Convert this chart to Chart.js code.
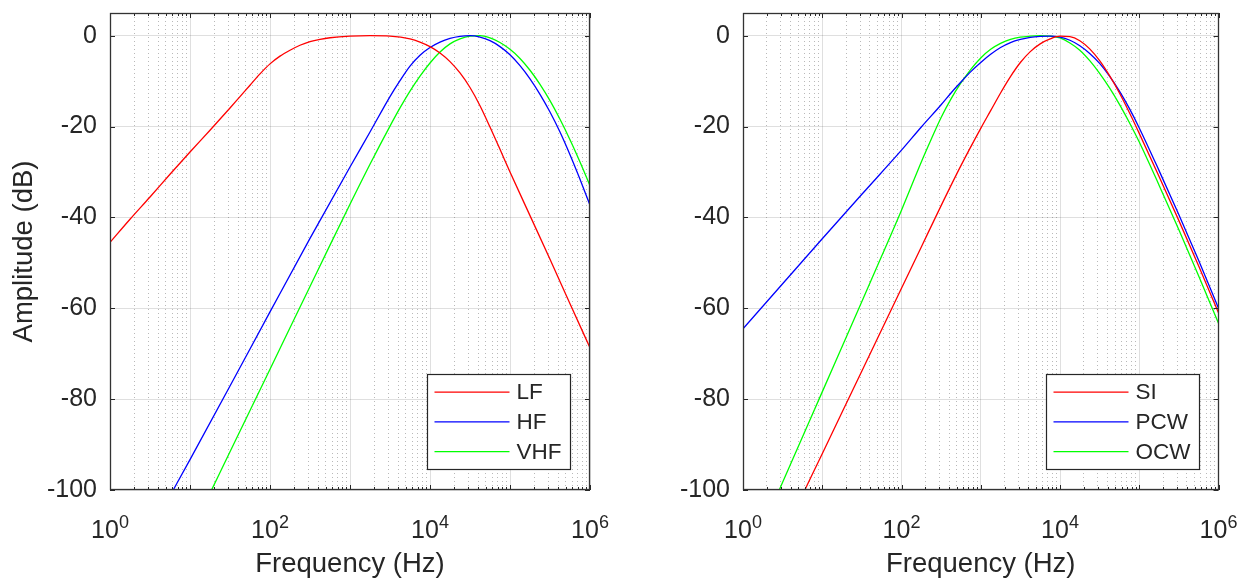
<!DOCTYPE html>
<html>
<head>
<meta charset="utf-8">
<script src="https://cdn.jsdelivr.net/npm/chart.js@4.4.1/dist/chart.umd.min.js"></script>
<style>
  html, body { margin: 0; padding: 0; background: #fff; }
  body { width: 1249px; height: 581px; position: relative; overflow: hidden; }
  canvas { position: absolute; top: 0; }
  #chart-left { left: 0; }
  #chart-right { left: 625px; }
</style>
</head>
<body>
<canvas id="chart-left" width="625" height="581"></canvas>
<canvas id="chart-right" width="624" height="581"></canvas>
<script>
const FONT = '"Liberation Sans", Arial, Helvetica, sans-serif';
const INK = '#262626';
const MAJOR_GRID = 'rgba(38,38,38,0.15)';
const MINOR_GRID = 'rgba(38,38,38,0.32)';

// axis ticks
const yTicks = [-100, -80, -60, -40, -20, 0];
const xDecades = [1, 10, 100, 1e3, 1e4, 1e5, 1e6];
const minorSteps = [2, 3, 4, 5, 6, 7, 8, 9];
const xLabelExps = [0, 2, 4, 6];

// left panel: log10(f) positions and amplitude in dB
const lfLogHz = [0, 0.25, 0.5, 0.75, 1, 1.25, 1.5, 1.625, 1.75, 1.875, 2, 2.125, 2.25, 2.375, 2.5, 2.625, 2.75, 3, 3.25, 3.5, 3.75, 3.875, 4, 4.125, 4.25, 4.375, 4.5, 4.625, 4.75, 4.875, 5, 5.25, 5.5, 5.75, 6];
const lfDb = [-45.5, -40.4, -35.5, -30.5, -25.6, -20.8, -15.9, -13.4, -10.9, -8.4, -6.2, -4.5, -3.2, -2.1, -1.3, -0.8, -0.45, -0.1, 0, -0.1, -0.7, -1.4, -2.4, -3.8, -5.7, -8.2, -11.4, -15.4, -20.1, -25.0, -30.0, -39.6, -49.2, -59.0, -68.7];
const hfLogHz = [0.75, 1, 1.5, 2, 2.5, 3, 3.25, 3.5, 3.625, 3.75, 3.875, 4, 4.125, 4.25, 4.375, 4.5, 4.625, 4.75, 4.875, 5, 5.125, 5.25, 5.375, 5.5, 5.625, 5.75, 5.875, 6];
const hfDb = [-101.3, -93.3, -77.1, -60.8, -44.6, -28.9, -21.2, -13.4, -9.9, -6.7, -4.3, -2.6, -1.4, -0.6, -0.15, 0, -0.3, -1.1, -2.4, -4.2, -6.6, -9.5, -12.9, -16.8, -21.2, -26.2, -31.6, -37.3];
const vhfLogHz = [1.25, 1.5, 2, 2.5, 2.75, 3, 3.25, 3.5, 3.625, 3.75, 3.875, 4, 4.125, 4.25, 4.375, 4.5, 4.625, 4.75, 4.875, 5, 5.125, 5.25, 5.375, 5.5, 5.625, 5.75, 5.875, 6];
const vhfDb = [-100.7, -91.6, -73.4, -55.2, -46.1, -37.1, -28.3, -19.9, -15.9, -12.2, -8.9, -6.0, -3.6, -1.8, -0.7, -0.1, 0, -0.5, -1.5, -3.0, -5.0, -7.6, -10.7, -14.3, -18.4, -22.9, -27.8, -33.0];

// right panel
const siLogHz = [0.75, 1, 1.5, 2, 2.25, 2.5, 2.75, 3, 3.125, 3.25, 3.375, 3.5, 3.625, 3.75, 3.875, 4, 4.125, 4.25, 4.375, 4.5, 4.625, 4.75, 4.875, 5, 5.25, 5.5, 5.75, 6];
const siDb = [-101.1, -92, -73.8, -55.6, -46.5, -37.4, -28.6, -20.4, -16.5, -12.6, -9.0, -5.9, -3.5, -1.8, -0.7, -0.1, -0.2, -1.1, -2.9, -5.5, -8.8, -12.6, -16.9, -21.5, -31.0, -40.7, -50.7, -61];
const pcwLogHz = [0, 0.5, 1, 1.5, 2, 2.25, 2.5, 2.625, 2.75, 2.875, 3, 3.125, 3.25, 3.375, 3.5, 3.625, 3.75, 3.875, 4, 4.125, 4.25, 4.375, 4.5, 4.625, 4.75, 4.875, 5, 5.25, 5.5, 5.75, 6];
const pcwDb = [-64.5, -54.6, -44.7, -34.9, -25.2, -20.1, -15.2, -12.6, -10.2, -7.9, -5.9, -4.1, -2.6, -1.5, -0.8, -0.35, -0.15, -0.1, -0.3, -1.0, -2.2, -3.9, -6.1, -8.9, -12.2, -16.0, -20.3, -29.7, -39.4, -49.5, -60];
const ocwLogHz = [0.25, 0.5, 1, 1.5, 1.75, 2, 2.25, 2.375, 2.5, 2.625, 2.75, 2.875, 3, 3.125, 3.25, 3.375, 3.5, 3.625, 3.75, 3.875, 4, 4.125, 4.25, 4.375, 4.5, 4.625, 4.75, 4.875, 5, 5.25, 5.5, 5.75, 6];
const ocwDb = [-108.3, -98.3, -78.4, -58.5, -48.5, -38.4, -27.8, -22.8, -18.0, -13.9, -10.4, -7.4, -4.9, -3.0, -1.7, -0.8, -0.3, -0.1, 0, -0.1, -0.5, -1.6, -3.2, -5.5, -8.3, -11.5, -15.1, -19.1, -23.4, -32.9, -42.7, -52.9, -63.3];

const xMinorTicks = [];
xDecades.slice(0, -1).forEach(d => minorSteps.forEach(s => xMinorTicks.push(d * s)));

function toPoints(logHz, db) {
  return logHz.map((e, i) => ({ x: Math.pow(10, e), y: db[i] }));
}

function series(label, color, logHz, db) {
  return {
    label, data: toPoints(logHz, db),
    borderColor: color, backgroundColor: color,
    borderWidth: 1.3, pointRadius: 0, fill: false,
    cubicInterpolationMode: 'monotone', clip: 0
  };
}

const matlabAxes = {
  id: 'matlabAxes',
  afterDatasetsDraw(chart) {
    const ctx = chart.ctx;
    const a = chart.chartArea;
    const x = chart.scales.x, xm = chart.scales.xMinor, y = chart.scales.y;
    ctx.save();
    ctx.strokeStyle = INK;
    ctx.lineWidth = 1;
    ctx.beginPath();
    // inward tick marks
    x.ticks.forEach(t => {
      const px = Math.round(x.getPixelForValue(t.value)) + 0.5;
      ctx.moveTo(px, a.bottom); ctx.lineTo(px, a.bottom - 5);
      ctx.moveTo(px, a.top); ctx.lineTo(px, a.top + 5);
    });
    xm.ticks.forEach(t => {
      const px = Math.round(xm.getPixelForValue(t.value)) + 0.5;
      ctx.moveTo(px, a.bottom); ctx.lineTo(px, a.bottom - 3);
      ctx.moveTo(px, a.top); ctx.lineTo(px, a.top + 3);
    });
    y.ticks.forEach(t => {
      const py = Math.round(y.getPixelForValue(t.value)) + 0.5;
      ctx.moveTo(a.left, py); ctx.lineTo(a.left + 5, py);
      ctx.moveTo(a.right, py); ctx.lineTo(a.right - 5, py);
    });
    ctx.stroke();

    // box
    ctx.strokeStyle = '#333';
    ctx.lineWidth = 1.3;
    ctx.strokeRect(Math.round(a.left) + 0.5, Math.round(a.top) + 0.5,
      Math.round(a.right - a.left) - 1, Math.round(a.bottom - a.top) - 1);

    // legend
    const sets = chart.data.datasets;
    ctx.font = '22.5px ' + FONT;
    const tw = Math.max(...sets.map(d => ctx.measureText(d.label).width));
    const w = Math.round(89 + tw + 9), h = 95;
    const lx = Math.round(a.right - 20 - w) + 0.5, ly = Math.round(a.bottom - 21 - h) + 0.5;
    ctx.fillStyle = '#fff';
    ctx.fillRect(lx, ly, w, h);
    ctx.strokeStyle = INK;
    ctx.lineWidth = 1.2;
    ctx.strokeRect(lx, ly, w, h);
    sets.forEach((d, i) => {
      const ry = ly + 17.7 + i * 29.75;
      ctx.strokeStyle = d.borderColor;
      ctx.lineWidth = 1.3;
      ctx.beginPath();
      ctx.moveTo(lx + 7, ry); ctx.lineTo(lx + 82, ry);
      ctx.stroke();
      ctx.fillStyle = INK;
      ctx.textAlign = 'left';
      ctx.textBaseline = 'middle';
      ctx.fillText(d.label, lx + 89, ry + 1);
    });

    // 10^n tick labels
    ctx.fillStyle = INK;
    ctx.textBaseline = 'alphabetic';
    ctx.textAlign = 'left';
    xLabelExps.forEach(e => {
      const px = x.getPixelForValue(Math.pow(10, e));
      ctx.font = '25px ' + FONT;
      const wb = ctx.measureText('10').width;
      ctx.font = '18px ' + FONT;
      const we = ctx.measureText(String(e)).width;
      const x0 = px - (wb + we) / 2;
      ctx.font = '25px ' + FONT;
      ctx.fillText('10', x0, 538);
      ctx.font = '18px ' + FONT;
      ctx.fillText(String(e), x0 + wb, 528);
    });
    ctx.restore();
  }
};

function makePanel(canvasId, datasets, yTitle, yWidth, padRight) {
  return new Chart(document.getElementById(canvasId), {
    type: 'line',
    data: { datasets },
    plugins: [matlabAxes],
    options: {
      responsive: false,
      animation: false,
      events: [],
      layout: { padding: { top: 13, right: padRight, bottom: 0, left: 0 } },
      plugins: { legend: { display: false }, tooltip: { enabled: false } },
      scales: {
        x: {
          type: 'logarithmic', position: 'bottom', min: 1, max: 1e6,
          afterBuildTicks: s => { s.ticks = xDecades.map(v => ({ value: v })); },
          afterFit: s => { s.height = 91; s.paddingLeft = 0; s.paddingRight = 0; },
          ticks: { display: false },
          grid: { color: MAJOR_GRID, lineWidth: 1, drawTicks: false },
          border: { display: false },
          title: {
            display: true, text: 'Frequency (Hz)', color: INK,
            font: { family: FONT, size: 27.5, lineHeight: 1.2 },
            padding: { top: 0, bottom: 0 }
          }
        },
        xMinor: {
          type: 'logarithmic', position: 'bottom', min: 1, max: 1e6,
          afterBuildTicks: s => { s.ticks = xMinorTicks.map(v => ({ value: v })); },
          afterFit: s => { s.height = 0; s.paddingLeft = 0; s.paddingRight = 0; },
          ticks: { display: false },
          grid: { color: MINOR_GRID, lineWidth: 1, drawTicks: false },
          border: { display: false, dash: [1, 3] }
        },
        y: {
          type: 'linear', min: -100, max: 5,
          afterBuildTicks: s => { s.ticks = yTicks.map(v => ({ value: v })); },
          afterFit: s => { s.width = yWidth; s.paddingTop = 0; s.paddingBottom = 0; },
          ticks: {
            padding: 13, color: INK,
            font: { family: FONT, size: 25 },
            callback: v => String(v)
          },
          grid: { color: MAJOR_GRID, lineWidth: 1, drawTicks: false },
          border: { display: false },
          title: {
            display: !!yTitle, text: yTitle, color: INK,
            font: { family: FONT, size: 27.5, lineHeight: 1.2 },
            padding: { top: 7.5, bottom: 0 }
          }
        }
      }
    }
  });
}

makePanel('chart-left', [
  series('LF', '#ff0000', lfLogHz, lfDb),
  series('HF', '#0000ff', hfLogHz, hfDb),
  series('VHF', '#00ff00', vhfLogHz, vhfDb)
], 'Amplitude (dB)', 110, 35);

makePanel('chart-right', [
  series('SI', '#ff0000', siLogHz, siDb),
  series('PCW', '#0000ff', pcwLogHz, pcwDb),
  series('OCW', '#00ff00', ocwLogHz, ocwDb)
], '', 118, 30.5);
</script>
</body>
</html>
